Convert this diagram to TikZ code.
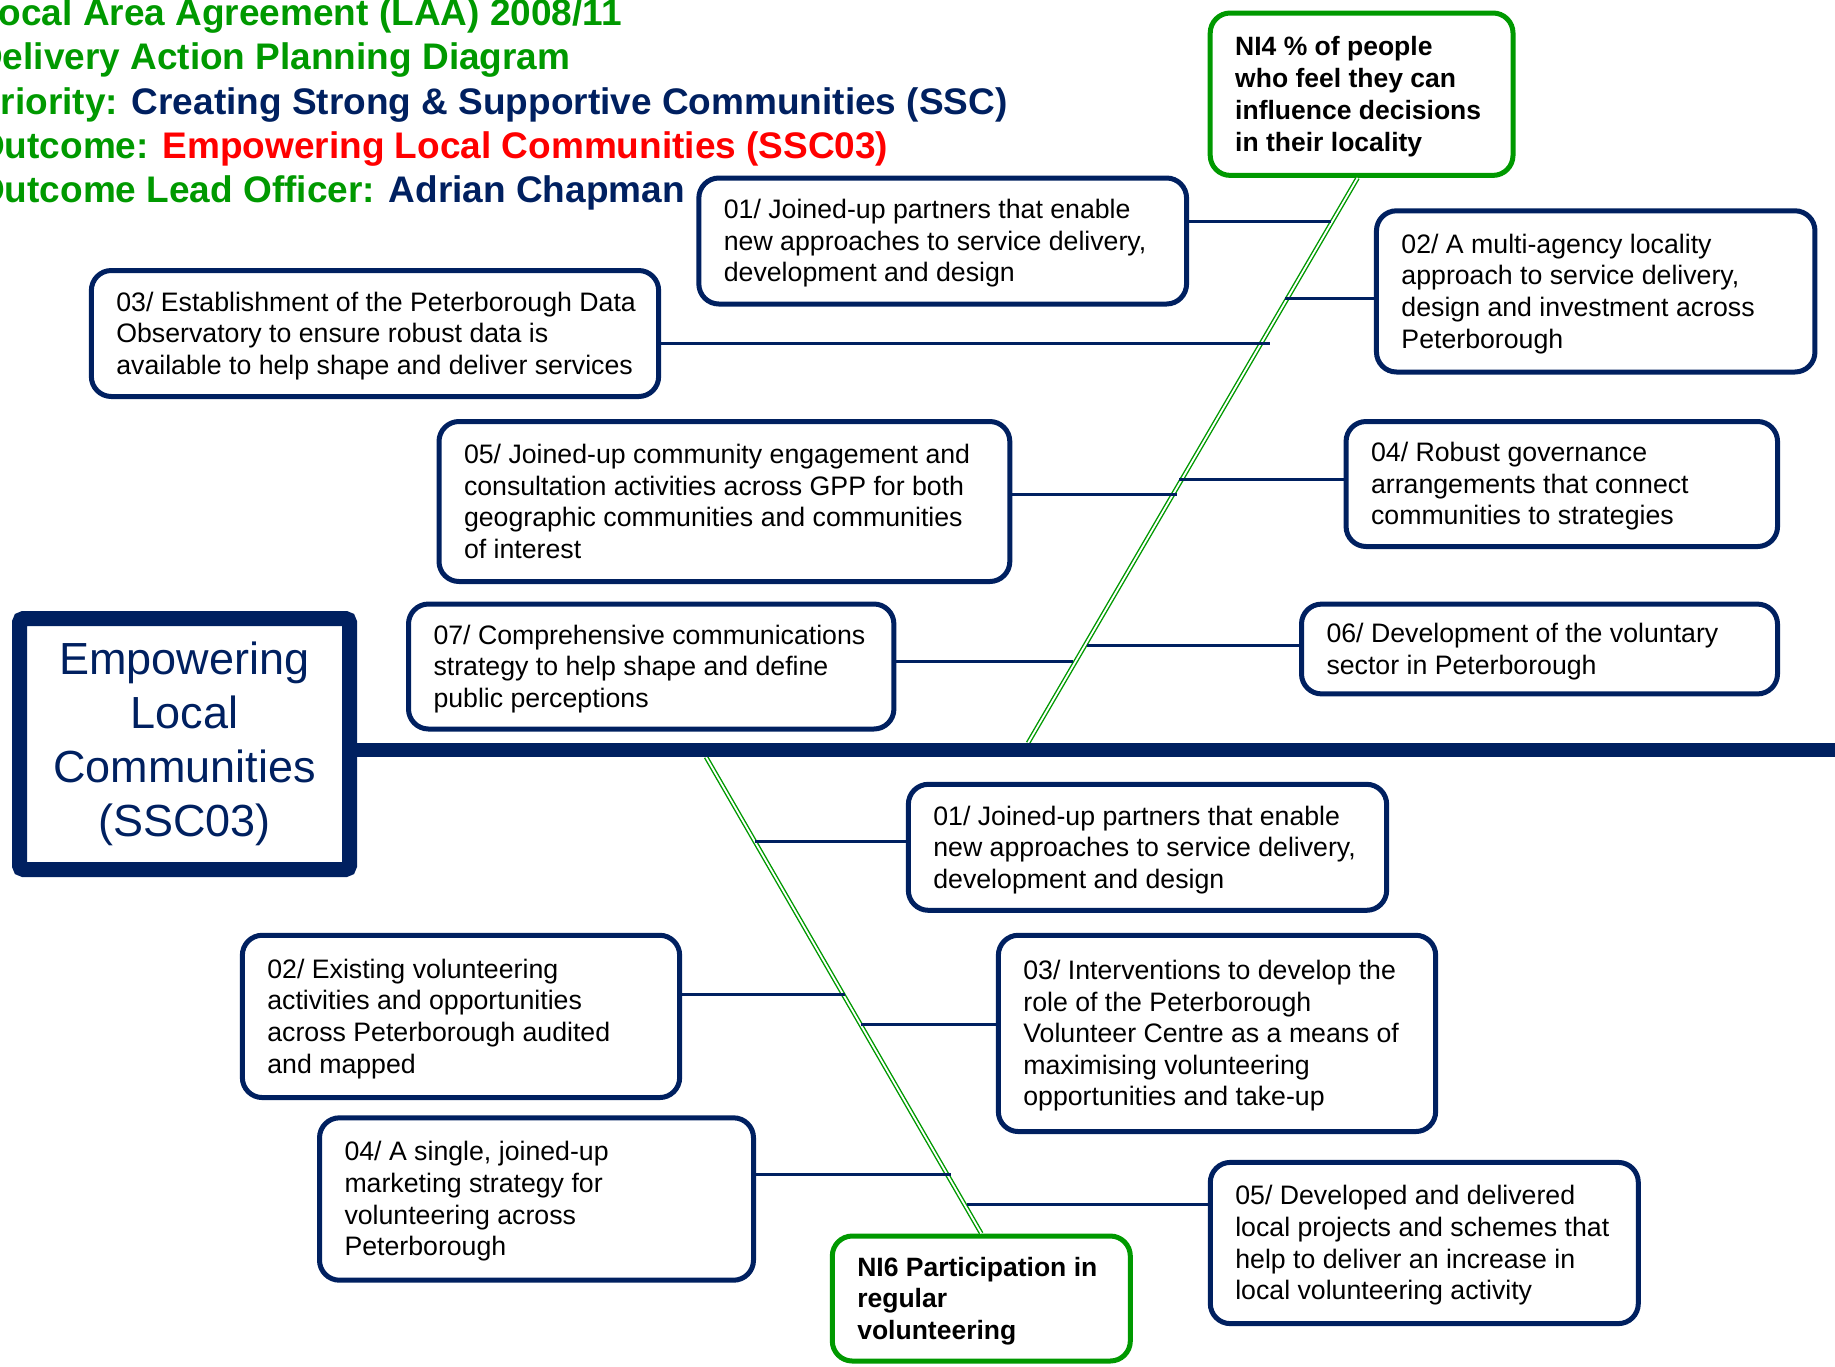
\documentclass[tikz,border=0pt]{standalone}
\usepackage{fontspec}
\setmainfont{Liberation Sans}
\usetikzlibrary{calc}
\definecolor{navy}{RGB}{0,32,96}
\definecolor{ggreen}{RGB}{0,153,0}
\definecolor{rred}{RGB}{255,0,0}
\newcommand\boxlines[2]{\raisebox{-3pt}[\height][\depth]{\makebox[#1][l]{\begin{tabular}{@{}l@{}}#2\end{tabular}}}}
\begin{document}
\begin{tikzpicture}[x=1pt,y=-1pt,
  abox/.style={draw=navy, line width=5pt, rounded corners=20pt, inner xsep=25pt, inner ysep=0pt, text=black, font=\fontsize{26.7}{31.6}\selectfont},
  nibox/.style={abox, draw=ggreen, font=\bfseries\fontsize{26.5}{31.8}\selectfont},
  conn/.style={draw=navy, line width=3pt},
  gline/.style={draw=ggreen, line width=1.4pt, double=white, double distance=1.8pt},
  ttl/.style={anchor=base west, inner sep=0pt, font=\bfseries\fontsize{37}{44}\selectfont, text=ggreen},
]
\useasboundingbox (0,0) rectangle (1835,1366);

% titles
\node[ttl] (t1) at (-24,25.5) {Local Area Agreement (LAA) 2008/11};
\node[ttl] (t2) at (-24,69.8) {Delivery Action Planning Diagram};
\node[ttl] (t3) at (-24,114.1) {Priority: \textcolor{navy}{Creating Strong \& Supportive Communities (SSC)}};
\node[ttl] (t4) at (-24,158.4) {Outcome: \textcolor{rred}{Empowering Local Communities (SSC03)}};
\node[ttl] (t5) at (-24,202.7) {Outcome Lead Officer: \textcolor{navy}{Adrian Chapman}};

% main box
\node[draw=navy, line width=15pt, rounded corners=4pt, minimum width=330pt, minimum height=251pt, align=center, text=navy, font=\fontsize{45}{54}\selectfont] (main) at (184.5,744) {Empowering\\Local\\Communities\\(SSC03)};

% indicator boxes
\node[nibox, minimum height=162.4pt] (NI4) at (1361.6,94.2) {\boxlines{252.8pt}{NI4 \% of people\\who feel they can\\influence decisions\\in their locality}};
\node[nibox, minimum height=125pt] (NI6) at (981.3,1298.5) {\boxlines{248pt}{NI6 Participation in\\regular\\volunteering}};

% upper boxes
\node[abox, minimum height=126pt] (A1) at (942.7,241) {\boxlines{437.7pt}{01/ Joined-up partners that enable\\new approaches to service delivery,\\development and design}};
\node[abox, minimum height=161.2pt] (A2) at (1595.7,291.4) {\boxlines{388.5pt}{02/ A multi-agency locality\\approach to service delivery,\\design and investment across\\Peterborough}};
\node[abox, minimum height=126pt] (A3) at (375,333.5) {\boxlines{517.3pt}{03/ Establishment of the Peterborough Data\\Observatory to ensure robust data is\\available to help shape and deliver services}};
\node[abox, minimum height=160pt] (A5) at (724.4,501.5) {\boxlines{520.8pt}{05/ Joined-up community engagement and\\consultation activities across GPP for both\\geographic communities and communities\\of interest}};
\node[abox, minimum height=125pt] (A4) at (1561.8,484) {\boxlines{381.5pt}{04/ Robust governance\\arrangements that connect\\communities to strategies}};
\node[abox, minimum height=125pt] (A7) at (651.2,666.5) {\boxlines{435.4pt}{07/ Comprehensive communications\\strategy to help shape and define\\public perceptions}};
\node[abox, minimum height=89.8pt] (A6) at (1539.5,649) {\boxlines{426pt}{06/ Development of the voluntary\\sector in Peterborough}};

% lower boxes
\node[abox, minimum height=126pt] (B1) at (1147.5,847.3) {\boxlines{428.3pt}{01/ Joined-up partners that enable\\new approaches to service delivery,\\development and design}};
\node[abox, minimum height=162.3pt] (B2) at (461,1016.4) {\boxlines{387.3pt}{02/ Existing volunteering\\activities and opportunities\\across Peterborough audited\\and mapped}};
\node[abox, minimum height=196.3pt] (B3) at (1217,1033.4) {\boxlines{387.3pt}{03/ Interventions to develop the\\role of the Peterborough\\Volunteer Centre as a means of\\maximising volunteering\\opportunities and take-up}};
\node[abox, minimum height=162.4pt] (B4) at (536.5,1199) {\boxlines{384pt}{04/ A single, joined-up\\marketing strategy for\\volunteering across\\Peterborough}};
\node[abox, minimum height=161.2pt] (B5) at (1424.3,1243) {\boxlines{378pt}{05/ Developed and delivered\\local projects and schemes that\\help to deliver an increase in\\local volunteering activity}};

% green diagonals
\coordinate (g1) at (1028,743);
\coordinate (g2) at (706,757);
\draw[gline] ([xshift=-4pt]NI4.south) -- (g1);
\draw[gline] (g2) -- (NI6.north);

% spine
\coordinate (spineR) at (1835,750);
\draw[navy, line width=14pt] (main.east |- spineR) -- (spineR);

% connector end points on the diagonals
\coordinate (jA1) at (1331,221);
\coordinate (jA2) at (1285,298);
\coordinate (jA3) at (1270,343);
\coordinate (jA5) at (1177,494);
\coordinate (jA4) at (1179,479);
\coordinate (jA7) at (1073,661);
\coordinate (jA6) at (1087,645);
\coordinate (jB1) at (755,841);
\coordinate (jB2) at (845,994);
\coordinate (jB3) at (861,1024);
\coordinate (jB4) at (951,1174);
\coordinate (jB5) at (967,1204);

\draw[conn] (A1.east |- jA1) -- (jA1);
\draw[conn] (A2.west |- jA2) -- (jA2);
\draw[conn] (A3.east |- jA3) -- (jA3);
\draw[conn] (A5.east |- jA5) -- (jA5);
\draw[conn] (A4.west |- jA4) -- (jA4);
\draw[conn] (A7.east |- jA7) -- (jA7);
\draw[conn] (A6.west |- jA6) -- (jA6);
\draw[conn] (B1.west |- jB1) -- (jB1);
\draw[conn] (B2.east |- jB2) -- (jB2);
\draw[conn] (B3.west |- jB3) -- (jB3);
\draw[conn] (B4.east |- jB4) -- (jB4);
\draw[conn] (B5.west |- jB5) -- (jB5);
\end{tikzpicture}
\end{document}
